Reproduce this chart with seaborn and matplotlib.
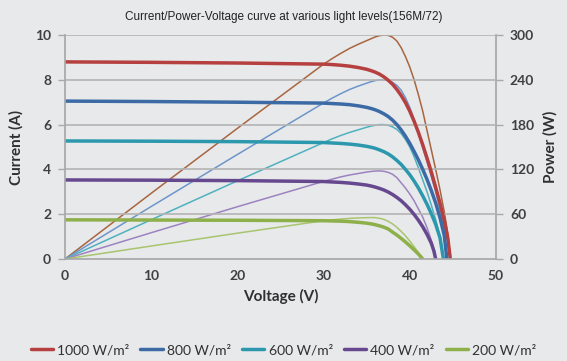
import matplotlib
matplotlib.use("Agg")
import matplotlib.pyplot as plt
import seaborn as sns
import pandas as pd

# irradiance levels
levels = ["1000 W/m²", "800 W/m²", "600 W/m²", "400 W/m²", "200 W/m²"]

# I-V curves (voltage in V, current in A)
v_1000 = [0, 10, 20, 30, 31, 32, 33, 34, 35, 35.5, 36, 36.5, 37, 37.5, 38, 38.5, 39, 39.5,
          40, 40.5, 41, 41.5, 42, 42.5, 43, 43.5, 44, 44.4, 44.7]
i_1000 = [8.8, 8.78, 8.75, 8.7, 8.68, 8.65, 8.61, 8.55, 8.47, 8.41, 8.34, 8.25, 8.13, 7.98,
          7.8, 7.57, 7.3, 6.98, 6.6, 6.15, 5.65, 5.1, 4.5, 3.88, 3.2, 2.5, 1.7, 0.95, 0]

v_800 = [0, 10, 20, 30, 31, 32, 33, 34, 35, 35.5, 36, 36.5, 37, 37.5, 38, 38.5, 39, 39.5,
         40, 40.5, 41, 41.5, 42, 42.5, 43, 43.5, 44, 44.3]
i_800 = [7.05, 7.03, 7.0, 6.96, 6.94, 6.92, 6.89, 6.84, 6.77, 6.72, 6.66, 6.58, 6.48, 6.36,
         6.2, 6.0, 5.76, 5.48, 5.16, 4.8, 4.42, 4.0, 3.55, 3.05, 2.5, 1.85, 1.05, 0]

v_600 = [0, 10, 20, 30, 31, 32, 33, 34, 35, 35.5, 36, 36.5, 37, 37.5, 38, 38.5, 39, 39.5,
         40, 40.5, 41, 41.5, 42, 42.5, 43, 43.5, 43.9]
i_600 = [5.27, 5.26, 5.24, 5.2, 5.18, 5.16, 5.13, 5.09, 5.03, 4.99, 4.94, 4.87, 4.79, 4.69,
         4.56, 4.4, 4.22, 4.0, 3.76, 3.48, 3.17, 2.82, 2.44, 2.02, 1.55, 0.95, 0]

v_400 = [0, 10, 20, 30, 31, 32, 33, 34, 35, 35.5, 36, 36.5, 37, 37.5, 38, 38.5, 39, 39.5,
         40, 40.5, 41, 41.5, 42, 42.5, 42.8, 43]
i_400 = [3.53, 3.52, 3.5, 3.46, 3.44, 3.42, 3.39, 3.35, 3.3, 3.26, 3.21, 3.15, 3.08, 2.99,
         2.88, 2.75, 2.6, 2.42, 2.22, 1.99, 1.73, 1.44, 1.1, 0.7, 0.35, 0]

v_200 = [0, 10, 20, 30, 31, 32, 33, 34, 35, 35.5, 36, 36.5, 37, 37.5, 38, 38.5, 39, 39.5,
         40, 40.5, 41, 41.5]
i_200 = [1.75, 1.74, 1.73, 1.71, 1.7, 1.69, 1.67, 1.64, 1.6, 1.57, 1.53, 1.48, 1.42, 1.34,
         1.2, 1.07, 0.92, 0.76, 0.59, 0.41, 0.22, 0]

# P-V curves (voltage in V, power in W)
pv_1000 = [0, 10, 20, 25, 30, 31, 32, 33, 34, 35, 35.5, 36, 36.5, 37, 37.5, 38, 38.5, 39,
           39.5, 40, 40.5, 41, 41.5, 42, 42.5, 43, 43.5, 44, 44.4, 44.7]
p_1000 = [0, 88, 175, 218, 261, 268.5, 275.5, 282, 287.5, 292.5, 295, 297.5, 299.2, 300,
          299.5, 297, 292, 283, 271, 257, 240, 220, 198, 172, 146, 120, 93, 63, 35, 0]

pv_800 = [0, 10, 20, 30, 31, 32, 33, 34, 35, 35.5, 36, 36.5, 37, 37.5, 38, 38.5, 39, 39.5,
          40, 40.5, 41, 41.5, 42, 42.5, 43, 43.5, 44, 44.3]
p_800 = [0, 70.3, 140, 209, 215.5, 221.5, 227, 231.5, 235.5, 237.5, 239, 240, 240, 239,
         236.5, 232.5, 226, 216, 203, 187, 168, 149, 130, 110, 90, 66, 36, 0]

pv_600 = [0, 10, 20, 30, 31, 32, 33, 34, 35, 35.5, 36, 36.5, 37, 37.5, 38, 38.5, 39, 39.5,
          40, 40.5, 41, 41.5, 42, 42.5, 43, 43.5, 43.9]
p_600 = [0, 52.6, 104.7, 156, 161, 165.5, 169.5, 173, 176.5, 178, 179.2, 180, 180, 179,
         177, 173.5, 168, 160, 150, 137, 122, 106, 90, 72, 53, 29, 0]

pv_400 = [0, 10, 20, 30, 31, 32, 33, 34, 35, 35.5, 36, 36.5, 37, 37.5, 38, 38.5, 39, 39.5,
          40, 40.5, 41, 41.5, 42, 42.5, 43]
p_400 = [0, 35.2, 70, 104, 107, 110, 112.5, 114.5, 116.5, 117.3, 117.8, 118, 117.5, 116,
         113.5, 109, 102, 95, 87, 78, 67, 56, 42, 25, 0]

pv_200 = [0, 10, 20, 30, 31, 32, 33, 34, 35, 35.5, 36, 36.5, 37, 37.5, 38, 38.5, 39, 39.5,
          40, 40.5, 41, 41.6]
p_200 = [0, 17.4, 34.6, 51.3, 52.5, 53.5, 54.4, 55, 55.4, 55.5, 55.4, 54.5, 53, 50.5, 47,
         42.5, 37, 31, 24, 16.5, 8.5, 0]

current_colors = ["#B5403F", "#3B6AA5", "#2C98AE", "#66488F", "#8DB04A"]
power_colors = ["#A8653F", "#6E95CA", "#4DB2BE", "#9C83C0", "#A9C46E"]

iv = [(v_1000, i_1000), (v_800, i_800), (v_600, i_600), (v_400, i_400), (v_200, i_200)]
pv = [(pv_1000, p_1000), (pv_800, p_800), (pv_600, p_600), (pv_400, p_400), (pv_200, p_200)]

bg = "#E8E9EB"
sns.set_theme(style="white", rc={"axes.facecolor": bg, "figure.facecolor": bg})
plt.rcParams["font.family"] = ["Lato", "DejaVu Sans"]

fig = plt.figure(figsize=(5.67, 3.61), dpi=100)
ax = fig.add_axes([0.1146, 0.2825, 0.7602, 0.6205])
ax2 = ax.twinx()

for (v, p), col in zip(pv, power_colors):
    df = pd.DataFrame({"V": v, "P": p})
    sns.lineplot(data=df, x="V", y="P", ax=ax2, color=col, lw=1.1, sort=False, legend=False)

for (v, i), col, lab in zip(iv, current_colors, levels):
    df = pd.DataFrame({"V": v, "I": i})
    sns.lineplot(data=df, x="V", y="I", ax=ax, color=col, lw=2.5, sort=False, label=lab)

handles, labels = ax.get_legend_handles_labels()
ax.get_legend().remove()

ax.set_xlim(0, 50)
ax.set_ylim(0, 10)
ax2.set_ylim(0, 300)
ax.set_xticks(range(0, 51, 10))
ax.set_yticks(range(0, 11, 2))
ax2.set_yticks(range(0, 301, 60))

# current axis on top, power axis carries the background
ax.set_zorder(ax2.get_zorder() + 1)
ax.patch.set_visible(False)
ax2.patch.set_facecolor(bg)
ax2.grid(False)
for y in range(2, 11, 2):
    ax.axhline(y, color="#B4B4B4", lw=1.2, zorder=0)

grey = "#A8A8A8"
for a in (ax, ax2):
    for s in a.spines.values():
        s.set_visible(False)
    a.tick_params(axis="both", length=4, width=1, color=grey, labelsize=10,
                  labelcolor="#404040", pad=5)
ax.spines["left"].set_visible(True)
ax.spines["left"].set_color(grey)
ax.spines["bottom"].set_visible(True)
ax.spines["bottom"].set_color(grey)
ax2.spines["right"].set_visible(True)
ax2.spines["right"].set_color(grey)
ax.tick_params(axis="x", direction="inout", length=6)
ax.tick_params(axis="y", direction="out", length=5)
ax2.tick_params(axis="y", direction="out", length=5)
for lbl in ax.get_xticklabels() + ax.get_yticklabels() + ax2.get_yticklabels():
    lbl.set_fontweight("bold")

ax.set_xlabel("Voltage (V)", fontsize=11, fontweight="bold", color="#303030", labelpad=5)
ax.set_ylabel("Current (A)", fontsize=11, fontweight="bold", color="#303030", labelpad=8)
ax2.set_ylabel("Power (W)", fontsize=11, fontweight="bold", color="#303030", labelpad=6)

fig.text(0.5, 0.952, "Current/Power-Voltage curve at various light levels(156M/72)",
         ha="center", va="center", fontsize=8.5, color="#222222",
         family=["Liberation Sans", "DejaVu Sans"])

fig.legend(handles, labels, loc="center", bbox_to_anchor=(0.5, 0.03), ncol=5,
           frameon=False, fontsize=10, handlelength=1.6, handletextpad=0.3,
           columnspacing=0.8, labelcolor="#303030")

fig.savefig("out.png", dpi=100, facecolor=bg)
